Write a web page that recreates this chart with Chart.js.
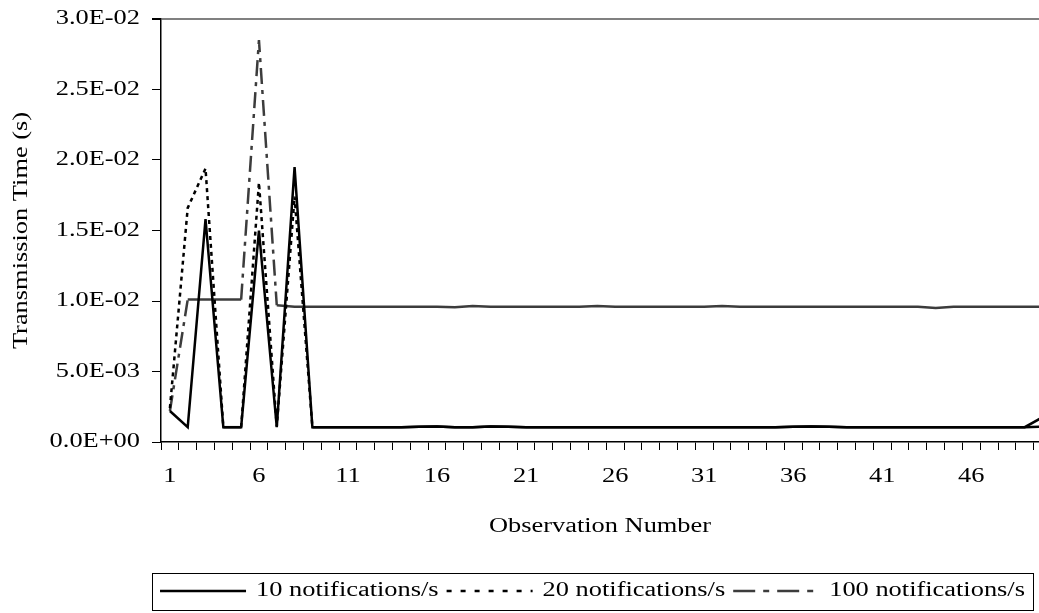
<!DOCTYPE html>
<html lang="en">
<head>
<meta charset="UTF-8">
<title>Transmission Time by Observation</title>
<script src="https://cdn.jsdelivr.net/npm/chart.js"></script>
<style>
  html, body { margin: 0; padding: 0; background: #fff; overflow: hidden; }
  #chartBox { width: 1039px; height: 613px; }
</style>
</head>
<body>
<div id="chartBox"><canvas id="myChart"></canvas></div>
<script>
// observation numbers 1..50
const observations = Array.from({ length: 50 }, (_, i) => i + 1);

const notif10 = [
  2.2e-3, 1.05e-3, 1.58e-2, 1.05e-3, 1.05e-3, 1.50e-2, 1.05e-3, 1.95e-2, 1.05e-3, 1.05e-3,
  1.05e-3, 1.05e-3, 1.05e-3, 1.05e-3, 1.08e-3, 1.10e-3, 1.05e-3, 1.05e-3, 1.10e-3, 1.08e-3,
  1.05e-3, 1.05e-3, 1.05e-3, 1.05e-3, 1.05e-3, 1.05e-3, 1.05e-3, 1.05e-3, 1.05e-3, 1.05e-3,
  1.05e-3, 1.05e-3, 1.05e-3, 1.05e-3, 1.05e-3, 1.08e-3, 1.10e-3, 1.08e-3, 1.05e-3, 1.05e-3,
  1.05e-3, 1.05e-3, 1.05e-3, 1.05e-3, 1.05e-3, 1.05e-3, 1.05e-3, 1.05e-3, 1.05e-3, 1.75e-3
];
const notif20 = [
  2.4e-3, 1.66e-2, 1.94e-2, 1.05e-3, 1.05e-3, 1.84e-2, 1.10e-3, 1.74e-2, 1.05e-3, 1.05e-3,
  1.05e-3, 1.05e-3, 1.05e-3, 1.05e-3, 1.08e-3, 1.10e-3, 1.05e-3, 1.05e-3, 1.10e-3, 1.08e-3,
  1.05e-3, 1.05e-3, 1.05e-3, 1.05e-3, 1.05e-3, 1.05e-3, 1.05e-3, 1.05e-3, 1.05e-3, 1.05e-3,
  1.05e-3, 1.05e-3, 1.05e-3, 1.05e-3, 1.05e-3, 1.08e-3, 1.10e-3, 1.08e-3, 1.05e-3, 1.05e-3,
  1.05e-3, 1.05e-3, 1.05e-3, 1.05e-3, 1.05e-3, 1.05e-3, 1.05e-3, 1.05e-3, 1.05e-3, 1.08e-3
];
const notif100 = [
  2.2e-3, 1.01e-2, 1.01e-2, 1.01e-2, 1.01e-2, 2.85e-2, 9.7e-3, 9.6e-3, 9.6e-3, 9.6e-3,
  9.6e-3, 9.6e-3, 9.6e-3, 9.6e-3, 9.6e-3, 9.6e-3, 9.55e-3, 9.65e-3, 9.6e-3, 9.6e-3,
  9.6e-3, 9.6e-3, 9.6e-3, 9.6e-3, 9.65e-3, 9.6e-3, 9.6e-3, 9.6e-3, 9.6e-3, 9.6e-3,
  9.6e-3, 9.65e-3, 9.6e-3, 9.6e-3, 9.6e-3, 9.6e-3, 9.6e-3, 9.6e-3, 9.6e-3, 9.6e-3,
  9.6e-3, 9.6e-3, 9.6e-3, 9.5e-3, 9.6e-3, 9.6e-3, 9.6e-3, 9.6e-3, 9.6e-3, 9.6e-3
];

const seriesNames = ['10 notifications/s', '20 notifications/s', '100 notifications/s'];
const xTickLabels = [1, 6, 11, 16, 21, 26, 31, 36, 41, 46];

const FONT = "'Liberation Serif', 'Times New Roman', serif";
const STRETCH = 1.32; // the original text is drawn wide, stretch it along the baseline

// dash patterns: on the slopes of the plot, and in the legend samples
const plotDash = [[], [4, 4], [16, 6, 4, 6]];
const legendDash = [[], [5, 9], [22, 8, 6, 8]];

function toPoints(arr) {
  return observations.map((o, i) => ({ x: o, y: arr[i] }));
}

// flat runs come out solid in the original, only the slopes show the dashes
function slopeDash(i) {
  return (ctx) => Math.abs(ctx.p1.parsed.y - ctx.p0.parsed.y) < 2e-4 ? [] : plotDash[i];
}

// 3.0E-02 style labels
function sci(v) {
  if (Math.abs(v) < 1e-12) return '0.0E+00';
  const parts = v.toExponential(1).split('e');
  const n = parseInt(parts[1], 10);
  return parts[0] + 'E' + (n < 0 ? '-' : '+') + String(Math.abs(n)).padStart(2, '0');
}

// widen text on this canvas only (measure and draw the same way)
const canvas = document.getElementById('myChart');
const c2d = canvas.getContext('2d');
const baseFill = c2d.fillText.bind(c2d);
const baseMeasure = c2d.measureText.bind(c2d);
c2d.fillText = function (text, x, y) {
  c2d.save();
  c2d.translate(x, y);
  c2d.scale(STRETCH, 1);
  baseFill(text, 0, 0);
  c2d.restore();
};
c2d.measureText = function (text) {
  const m = baseMeasure(text);
  return {
    width: m.width * STRETCH,
    actualBoundingBoxLeft: m.actualBoundingBoxLeft * STRETCH,
    actualBoundingBoxRight: m.actualBoundingBoxRight * STRETCH,
    actualBoundingBoxAscent: m.actualBoundingBoxAscent,
    actualBoundingBoxDescent: m.actualBoundingBoxDescent,
    fontBoundingBoxAscent: m.fontBoundingBoxAscent,
    fontBoundingBoxDescent: m.fontBoundingBoxDescent
  };
};

// move the legend right, draw its line samples and a frame around it
const legendFrame = {
  id: 'legendFrame',
  afterLayout(chart) {
    chart.legend.left += 73;
    chart.legend.right += 73;
  },
  afterDraw(chart) {
    const hb = chart.legend.legendHitBoxes;
    if (!hb || !hb.length) return;
    const sample = chart.options.plugins.legend.labels.boxWidth;
    const ctx = chart.ctx;
    ctx.save();
    hb.forEach((b, i) => {
      const ds = chart.data.datasets[i];
      const y = Math.round(b.top + b.height / 2);
      ctx.strokeStyle = ds.borderColor;
      ctx.lineWidth = ds.borderWidth;
      ctx.setLineDash(legendDash[i]);
      ctx.beginPath();
      ctx.moveTo(b.left, y);
      ctx.lineTo(b.left + sample, y);
      ctx.stroke();
    });
    const last = hb[hb.length - 1];
    const x0 = hb[0].left - 8;
    const x1 = last.left + last.width + 8;
    const cy = hb[0].top + hb[0].height / 2;
    ctx.setLineDash([]);
    ctx.strokeStyle = '#000';
    ctx.lineWidth = 1;
    ctx.strokeRect(Math.round(x0) + 0.5, Math.round(cy - 18.5) + 0.5, Math.round(x1 - x0), 37);
    ctx.restore();
  }
};

const config = {
  type: 'line',
  data: {
    datasets: [
      {
        label: seriesNames[0],
        data: toPoints(notif10),
        borderColor: '#000',
        backgroundColor: '#000',
        borderWidth: 2.5,
        pointRadius: 0,
        tension: 0
      },
      {
        label: seriesNames[1],
        data: toPoints(notif20),
        borderColor: '#000',
        backgroundColor: '#000',
        borderWidth: 2.5,
        segment: { borderDash: slopeDash(1) },
        pointRadius: 0,
        tension: 0
      },
      {
        label: seriesNames[2],
        data: toPoints(notif100),
        borderColor: '#3c3c3c',
        backgroundColor: '#3c3c3c',
        borderWidth: 2.5,
        segment: { borderDash: slopeDash(2) },
        pointRadius: 0,
        tension: 0
      }
    ]
  },
  options: {
    responsive: true,
    maintainAspectRatio: false,
    animation: false,
    layout: { padding: { top: 19, right: 0, bottom: 2, left: 0 } },
    plugins: {
      tooltip: { enabled: false },
      legend: {
        position: 'bottom',
        labels: {
          color: '#000',
          font: { family: FONT, size: 20 },
          boxWidth: 86,
          padding: 8,
          generateLabels: (chart) =>
            Chart.defaults.plugins.legend.labels.generateLabels(chart).map((item) => ({
              ...item,
              fillStyle: 'rgba(0,0,0,0)',
              strokeStyle: 'rgba(0,0,0,0)',
              lineWidth: 0
            }))
        }
      }
    },
    scales: {
      x: {
        type: 'linear',
        min: 0.5,
        max: 49.8,
        afterBuildTicks: (scale) => {
          const t = [];
          for (let k = 1; k <= 99; k++) t.push({ value: k / 2 });
          scale.ticks = t;
        },
        afterFit: (scale) => {
          scale.paddingLeft = 0;
          scale.paddingRight = 0;
        },
        ticks: {
          autoSkip: false,
          maxRotation: 0,
          padding: 15,
          color: '#000',
          font: { family: FONT, size: 20 },
          callback: (v) => xTickLabels.includes(v) ? String(v) : ''
        },
        grid: {
          drawOnChartArea: false,
          tickLength: 8,
          tickColor: (ctx) => (ctx.tick && !Number.isInteger(ctx.tick.value)) ? '#000' : 'rgba(0,0,0,0)'
        },
        border: { color: '#000', width: 1.5 },
        title: {
          display: true,
          text: 'Observation Number',
          color: '#000',
          font: { family: FONT, size: 20 },
          padding: { top: 11, bottom: 34 }
        }
      },
      y: {
        min: 0,
        max: 0.03,
        afterFit: (scale) => {
          scale.width = 161;
          scale.paddingTop = 0;
          scale.paddingBottom = 0;
        },
        ticks: {
          stepSize: 0.005,
          padding: 12,
          color: '#000',
          font: { family: FONT, size: 20 },
          callback: (v) => sci(v)
        },
        grid: {
          tickLength: 9,
          tickColor: '#000',
          color: (ctx) => (ctx.tick && ctx.tick.value > 0.0299) ? '#808080' : 'rgba(0,0,0,0)',
          lineWidth: (ctx) => (ctx.tick && ctx.tick.value > 0.0299) ? 2 : 1
        },
        border: { color: '#000', width: 1.5 },
        title: {
          display: true,
          text: 'Transmission Time (s)',
          color: '#000',
          font: { family: FONT, size: 20 },
          padding: { top: 10, bottom: 0 }
        }
      }
    }
  },
  plugins: [legendFrame]
};

const myChart = new Chart(c2d, config);
</script>
</body>
</html>
